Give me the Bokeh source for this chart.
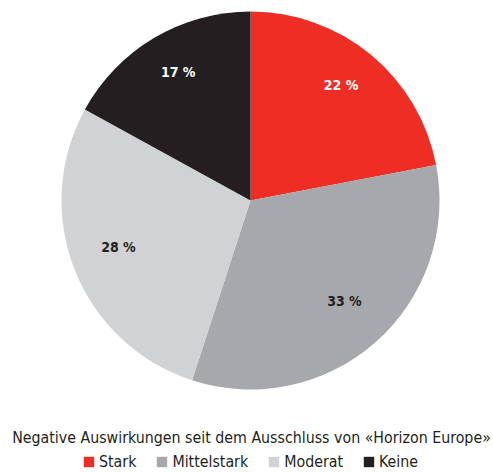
import numpy as np
from bokeh.plotting import figure
from bokeh.models import Range1d, ColumnDataSource, Legend, LegendItem
from bokeh.core.properties import value
from bokeh.embed import file_html
from bokeh.resources import INLINE

categories = ["Stark", "Mittelstark", "Moderat", "Keine"]
shares = [22, 33, 28, 17]
colors = ["#EE2E24", "#A7A8AB", "#D1D2D4", "#231F20"]
label_colors = ["#FFFFFF", "#231F20", "#231F20", "#FFFFFF"]
title_text = "Negative Auswirkungen seit dem Ausschluss von «Horizon Europe»"

FONT = "DejaVu Sans Condensed"
W, H = 493, 472
cx, cy, R = 250, 272, 189

frac = np.array(shares) / sum(shares)
cum = np.concatenate([[0], np.cumsum(frac)])
start = np.pi / 2 - cum[:-1] * 2 * np.pi
end = np.pi / 2 - cum[1:] * 2 * np.pi
mid = (start + end) / 2
lr = 142
src = ColumnDataSource(dict(
    cat=categories, start=start, end=end, color=colors,
    lx=cx + lr * np.cos(mid), ly=cy + 6 + lr * np.sin(mid),
    label=[f"{s} %" for s in shares], lcolor=label_colors,
))

p = figure(width=W, height=H, output_backend="svg", toolbar_location=None,
           x_range=Range1d(0, W), y_range=Range1d(0, H), min_border=0)
p.axis.visible = False
p.grid.visible = False
p.outline_line_color = None

p.wedge(x=cx, y=cy, radius=R, radius_units="screen", start_angle="start", end_angle="end",
        direction="clock", fill_color="color", line_color=None, source=src)
p.text(x="lx", y="ly", text="label", text_color="lcolor", source=src,
       text_align="center", text_baseline="middle", text_font=value(FONT),
       text_font_size="14px", text_font_style="bold")
p.text(x=[251], y=[35], text=[title_text], text_align="center", text_baseline="middle",
       text_font=value(FONT), text_font_size="15.8px", text_color="#231F20")

# legend swatches
items = []
for i, c in enumerate(categories):
    r = p.quad(left=[-100], right=[-90], bottom=[-100], top=[-90], fill_color=colors[i], line_color=None)
    items.append(LegendItem(label=c, renderers=[r]))
leg = Legend(items=items, orientation="horizontal", location=(82, 1),
             glyph_width=13, glyph_height=13, label_height=16, label_standoff=4, spacing=19,
             label_text_font=FONT, label_text_font_size="15.8px", label_text_color="#231F20",
             label_text_baseline="middle",
             background_fill_alpha=0, border_line_color=None, padding=0, margin=0)
p.add_layout(leg, "center")

open("out.html", "w").write(file_html(p, INLINE))
